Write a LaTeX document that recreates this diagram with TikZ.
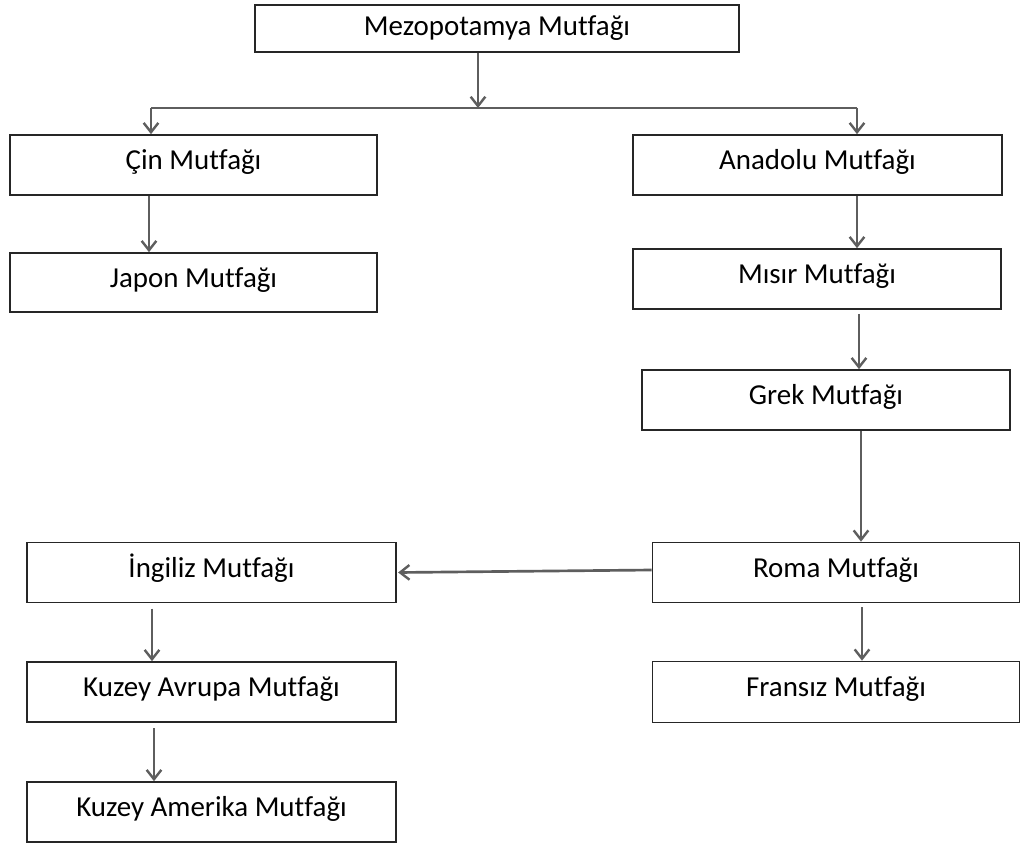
\documentclass[tikz,border=0pt]{standalone}
\usepackage{fontspec}
\setmainfont{Carlito}[Ligatures=CommonOff]
\usetikzlibrary{arrows.meta}
\definecolor{boxline}{HTML}{262626}
\definecolor{arrline}{HTML}{5E5E5E}
\begin{document}
\begin{tikzpicture}[x=0.75pt,y=-0.75pt,
  box/.style={draw=boxline,line width=1.25pt,fill=white,inner sep=0pt,
    font=\fontsize{21.7}{25}\selectfont,text height=13.7pt,text depth=6.3pt},
  conn/.style={draw=arrline,line width=2pt},
  arr/.style={conn,-{Straight Barb[length=7pt,width=11pt,line width=1.8pt]}}]
\useasboundingbox[fill=white] (0,0) rectangle (1024,845);
% boxes (centre, size in px)
\node[box,minimum width=484*0.75pt,minimum height=47*0.75pt,text depth=2.6pt] (mez) at (497,28.5) {Mezopotamya Mutfağı};
\node[box,minimum width=367*0.75pt,minimum height=60*0.75pt] (cin) at (193.5,165) {Çin Mutfağı};
\node[box,minimum width=367*0.75pt,minimum height=59*0.75pt] (jap) at (193.5,282.5) {Japon Mutfağı};
\node[box,minimum width=369*0.75pt,minimum height=60*0.75pt] (ana) at (817.5,165) {Anadolu Mutfağı};
\node[box,minimum width=368*0.75pt,minimum height=60*0.75pt] (mis) at (817,279) {Mısır Mutfağı};
\node[box,minimum width=368*0.75pt,minimum height=60*0.75pt] (grek) at (826,400) {Grek Mutfağı};
\node[box,minimum width=367*0.75pt,minimum height=60*0.75pt] (roma) at (836,572.5) {Roma Mutfağı};
\node[box,minimum width=367*0.75pt,minimum height=61*0.75pt] (fra) at (836,692) {Fransız Mutfağı};
\node[box,minimum width=369*0.75pt,minimum height=60*0.75pt] (ing) at (211.5,572.5) {İngiliz Mutfağı};
\node[box,minimum width=369*0.75pt,minimum height=60*0.75pt] (kav) at (211.5,692) {Kuzey Avrupa Mutfağı};
\node[box,minimum width=369*0.75pt,minimum height=60*0.75pt] (kam) at (211.5,812) {Kuzey Amerika Mutfağı};
% junction
\coordinate (j) at (478,108);
\coordinate (jl) at (151,108);
\coordinate (jr) at (857,108);
\draw[arr] (mez.south -| j) -- (j);
\draw[conn] (jl) -- (jr);
\draw[arr] (jl) -- (jl |- cin.north);
\draw[arr] (jr) -- (jr |- ana.north);
% connectors
\draw[arr] (cin.south -| 149,0) -- (jap.north -| 149,0);
\draw[arr] (ana.south -| 857,0) -- (mis.north -| 857,0);
\draw[arr,shorten <=3pt] (mis.south -| 859,0) -- (grek.north -| 859,0);
\draw[arr] (grek.south -| 861,0) -- (roma.north -| 861,0);
\draw[arr,shorten <=3pt] (roma.south -| 862,0) -- (fra.north -| 862,0);
\draw[arr] (roma.west |- 0,570) -- ([xshift=1pt]ing.east);
\draw[arr,shorten <=4pt] (ing.south -| 152,0) -- (kav.north -| 152,0);
\draw[arr,shorten <=4pt] (kav.south -| 154,0) -- (kam.north -| 154,0);
\end{tikzpicture}
\end{document}
